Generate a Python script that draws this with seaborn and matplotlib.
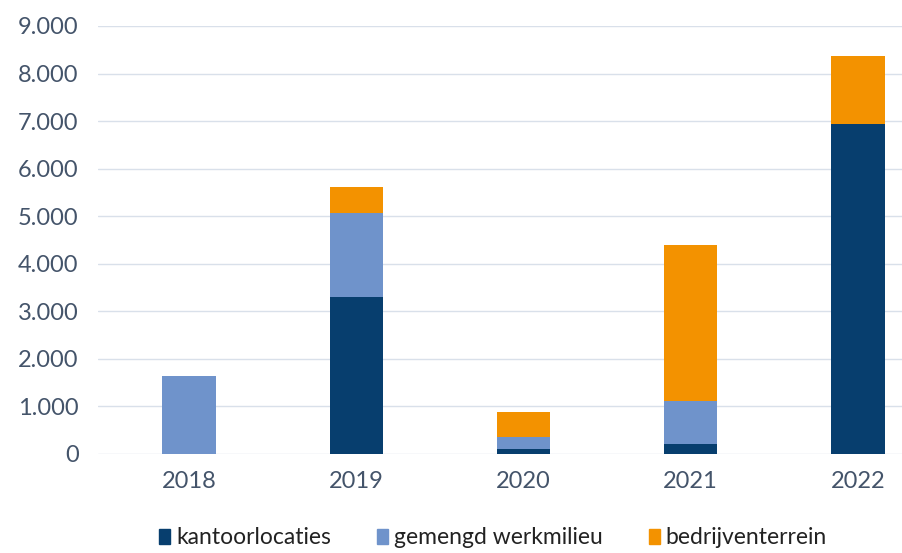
import matplotlib
matplotlib.use("Agg")
import matplotlib.pyplot as plt
import seaborn as sns
import pandas as pd
import numpy as np
from matplotlib.patches import Patch

# ── DATA ──────────────────────────────────────────────────────────────────────
years          = ["2018", "2019", "2020", "2021", "2022"]
kantoor        = [0, 3310, 100, 220, 6940]
gemengd        = [1650, 1760, 250, 900, 0]
bedrijf        = [0, 550, 530, 3265, 1425]
series_labels  = ["kantoorlocaties", "gemengd werkmilieu", "bedrijventerrein"]
yticks         = [0, 1000, 2000, 3000, 4000, 5000, 6000, 7000, 8000, 9000]

C_DARK  = "#073e6e"
C_LIGHT = "#6f93cb"
C_ORNG  = "#f39200"
TXT     = "#44546a"
GRID    = "#d9e0ea"

sns.set_theme(style="white")
plt.rcParams["font.family"] = ["Lato", "DejaVu Sans"]

df = pd.DataFrame({"jaar": years, "k": kantoor, "g": gemengd, "b": bedrijf})
df["kg"]  = df["k"] + df["g"]
df["kgb"] = df["kg"] + df["b"]

fig = plt.figure(figsize=(9.03, 5.53), dpi=100)
ax = fig.add_axes([98/903, 1 - 454/553, 1 - 98/903, (454 - 26)/553])

# stacked: draw cumulative totals back to front
bw = 0.32
for col, c in (("kgb", C_ORNG), ("kg", C_LIGHT), ("k", C_DARK)):
    sns.barplot(data=df, x="jaar", y=col, color=c, width=bw, saturation=1,
                linewidth=0, ax=ax)

ax.set_ylim(0, 9000)
# category spacing ~167px, first bar centre ~189px
sp = 167.0
ax.set_xlim(-(189 - 98) / sp, 4 + (903 - 858) / sp)
ax.set_yticks(yticks)
ax.set_yticklabels([f"{v:,}".replace(",", ".") for v in yticks], fontsize=17, color=TXT)
ax.tick_params(axis="y", length=0, pad=14)
ax.tick_params(axis="x", length=0, pad=12, labelsize=17, labelcolor=TXT)
ax.set_xlabel(""); ax.set_ylabel("")
ax.yaxis.grid(True, color=GRID, linewidth=1)
ax.set_axisbelow(True)
for s in ax.spines.values():
    s.set_visible(False)

handles = [Patch(color=c) for c in (C_DARK, C_LIGHT, C_ORNG)]
fig.legend(handles, series_labels, loc="center", bbox_to_anchor=(0.546, 1 - 538/553),
           ncol=3, frameon=False, fontsize=16.5, labelcolor="#222222",
           handlelength=0.5, handleheight=0.6, handletextpad=0.25, columnspacing=2.0)

fig.savefig("out.png", dpi=100)
